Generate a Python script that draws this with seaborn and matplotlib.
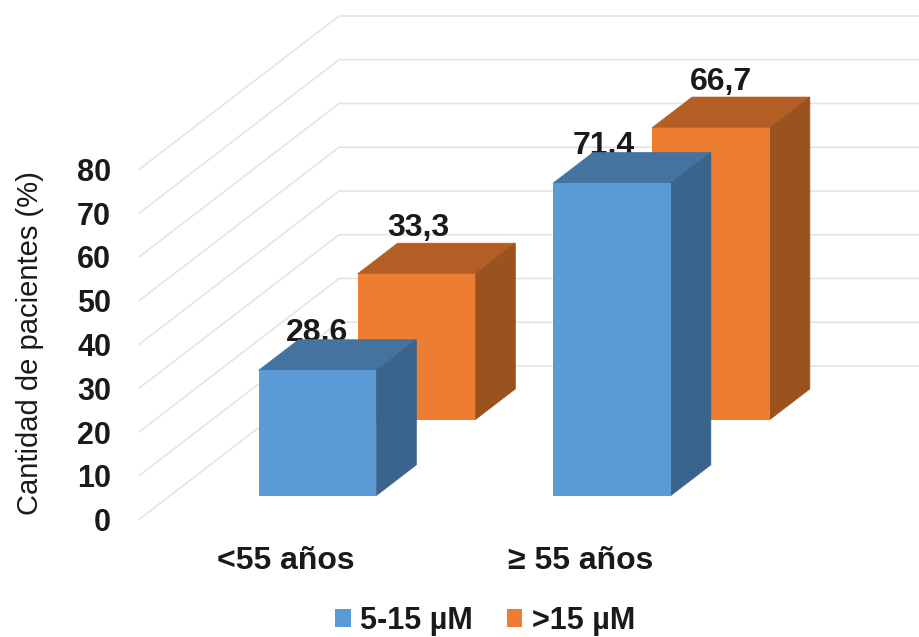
import pandas as pd
import matplotlib
matplotlib.use('Agg')
import matplotlib.pyplot as plt
import seaborn as sns

# values
grupos = ['<55 años', '≥ 55 años']
serie_a = [28.6, 71.4]
serie_b = [33.3, 66.7]
nombres = ['5-15 µM', '>15 µM']
y_ticks = [0, 10, 20, 30, 40, 50, 60, 70, 80]

df = pd.DataFrame({
    'grupo': grupos * 2,
    'valor': serie_a + serie_b,
    'serie': [nombres[0]] * 2 + [nombres[1]] * 2,
})

sns.set_theme(style='white')
plt.rcParams['font.family'] = ['Liberation Sans', 'DejaVu Sans']

W, H = 919, 637
fig = plt.figure(figsize=(W / 100, H / 100), dpi=100)
# plot box in pixels of the picture: front plane of the fake 3D box
left, right, top, bottom = 139, 728, 169.5, 519.5
ax = fig.add_axes([left / W, 1 - bottom / H, (right - left) / W, (bottom - top) / H])

colores = ['#5b9bd5', '#ed7d31']
techo = ['#44739f', '#b25e25']
lado = ['#3a648c', '#9a521f']

sns.barplot(data=df, x='grupo', y='valor', hue='serie', hue_order=nombres,
            palette=colores, dodge=False, width=0.4, saturation=1, legend=False, ax=ax)
ax.set_xlim(-0.5, 1.5)
ax.set_ylim(0, 80)

# depth of the box is 200 px across and 153.5 px up
px_x = (right - left) / 2
px_y = (bottom - top) / 80


def proyecta(x, y, d):
    return x + 200 * d / px_x, y + 153.5 * d / px_y


# walls
for v in y_ticks:
    pts = [proyecta(-0.5, v, 0), proyecta(-0.5, v, 1), proyecta(1.5, v, 1)]
    ax.plot([p[0] for p in pts], [p[1] for p in pts], color='#e2e2e2', lw=1.1,
            clip_on=False, zorder=1)

profundidad = [0.156, 0.651]
fondo = 0.2
z_caras = [5, 2]
desplaza = [[(0, 29), (-8, 29)], [(2, 38), (10, 38)]]

for i, cont in enumerate(ax.containers):
    d = profundidad[i]
    for j, bar in enumerate(cont):
        x0, w, h = bar.get_x(), bar.get_width(), bar.get_height()
        bar.set_xy(proyecta(x0, 0, d))
        bar.set_zorder(z_caras[i] + 0.1)
        bar.set_clip_on(False)
        bar.set_linewidth(0)
        # top and right faces
        cara_top = [proyecta(x0, h, d), proyecta(x0 + w, h, d),
                    proyecta(x0 + w, h, d + fondo), proyecta(x0, h, d + fondo)]
        cara_lado = [proyecta(x0 + w, 0, d), proyecta(x0 + w, h, d),
                     proyecta(x0 + w, h, d + fondo), proyecta(x0 + w, 0, d + fondo)]
        ax.fill(*zip(*cara_top), color=techo[i], lw=0.5, clip_on=False, zorder=z_caras[i])
        ax.fill(*zip(*cara_lado), color=lado[i], lw=0.5, clip_on=False, zorder=z_caras[i])
        # the blue top face hides the bottom of its own label
        ax.annotate(f'{h:.1f}'.replace('.', ','), xy=proyecta(x0 + w / 2, h, d),
                    xytext=desplaza[i][j], textcoords='offset pixels',
                    ha='center', va='baseline', fontsize=23, fontweight='bold',
                    color='#1a1a1a', zorder=3, annotation_clip=False)

ax.set_xlim(-0.5, 1.5)
ax.set_ylim(0, 80)
ax.set_yticks(y_ticks)
sns.despine(ax=ax, left=True, bottom=True)
ax.tick_params(axis='y', length=0, pad=20, labelsize=22, labelcolor='#1a1a1a')
ax.tick_params(axis='x', length=0, pad=19, labelsize=23, labelcolor='#1a1a1a')
for lab in ax.get_yticklabels() + ax.get_xticklabels():
    lab.set_fontweight('bold')
ax.set_xlabel('')
ax.set_ylabel('Cantidad de pacientes (%)', fontsize=21, color='#1a1a1a', va='center')
ax.yaxis.set_label_coords(-0.185, 0.503)

ax.legend(handles=ax.containers, labels=nombres, ncol=2, frameon=False,
          loc='center', bbox_to_anchor=(485 / W, 1 - 621 / H), bbox_transform=fig.transFigure,
          prop={'size': 22, 'weight': 'bold'}, handlelength=0.52, handleheight=0.52,
          handletextpad=0.3, columnspacing=1.1, labelcolor='#1a1a1a')

fig.savefig('out.png', dpi=100, facecolor='white')
